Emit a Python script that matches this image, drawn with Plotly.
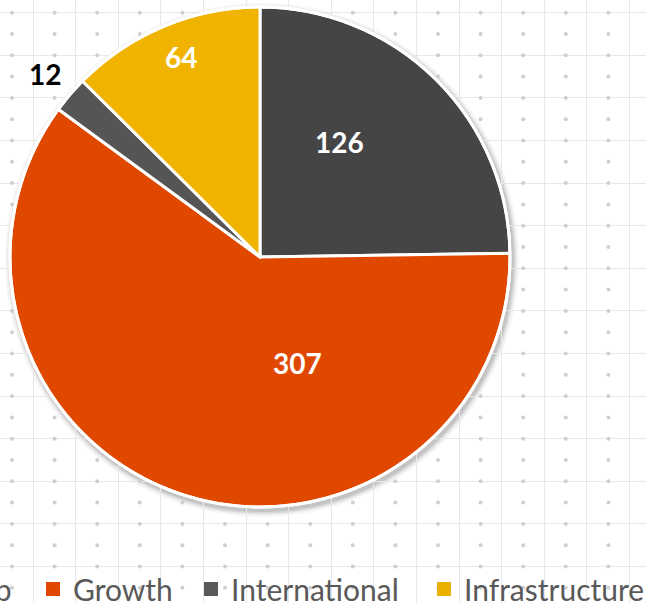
import numpy as np
import plotly.graph_objects as go

# ---- data ----
categories = ["Large Cap", "Growth", "International", "Infrastructure"]
values = [126, 307, 12, 64]

# ---- style ----
slice_colors = ["#454545", "#e04800", "#555555", "#f0b400"]
legend_colors = ["#454545", "#e04800", "#5a5a5a", "#eab000"]
label_colors = ["white", "white", "black", "white"]
label_radius = [0.56, 0.45, 1.13, 0.86]        # fraction of pie radius
label_angle_nudge = [-10, -37, 0, 1]          # degrees from slice mid-angle
legend_sq_center = [-140, 53, 211, 444]       # px, legend marker centres

W, H = 646, 603
CX, CY, R = 260, 257, 250                      # pie centre / radius in px
GRID = 42.6
FONT = "Lato"

fig = go.Figure()

# decorative background: dot grid
gx = np.arange(12, W, GRID)
gy = np.arange(12.7, H, GRID / 2)
XX, YY = np.meshgrid(gx, gy)
fig.add_trace(go.Scatter(
    x=XX.ravel(), y=YY.ravel(), mode="markers",
    marker=dict(size=4, color="#cfcfcf"),
    hoverinfo="skip", showlegend=False,
))

# soft drop shadow behind the pie
for k, a in [(7, 0.035), (5, 0.05), (3.5, 0.07), (2, 0.09)]:
    fig.add_shape(
        type="circle", xref="x", yref="y", layer="below",
        x0=CX - R - k + 2, x1=CX + R + k + 2,
        y0=CY - R - k + 3, y1=CY + R + k + 3,
        fillcolor=f"rgba(0,0,0,{a})", line_width=0,
    )

# the pie
fig.add_trace(go.Pie(
    labels=categories,
    values=values,
    sort=False,
    direction="clockwise",
    rotation=0,
    marker=dict(colors=slice_colors, line=dict(color="white", width=3)),
    textinfo="none",
    domain=dict(x=[(CX - R) / W, (CX + R) / W],
                y=[1 - (CY + R) / H, 1 - (CY - R) / H]),
    hoverinfo="label+value",
    showlegend=False,
))

# white rim around the pie
fig.add_shape(
    type="circle", xref="x", yref="y", layer="above",
    x0=CX - R, x1=CX + R, y0=CY - R, y1=CY + R,
    line=dict(color="white", width=3), fillcolor="rgba(0,0,0,0)",
)

# data labels placed from the slice angles
total = sum(values)
cum = np.cumsum([0] + values)
for i, v in enumerate(values):
    mid = (cum[i] + cum[i + 1]) / 2 / total * 360 + label_angle_nudge[i]
    th = np.deg2rad(mid)
    fig.add_annotation(
        x=CX + label_radius[i] * R * np.sin(th),
        y=CY - label_radius[i] * R * np.cos(th),
        xref="x", yref="y", text=f"<b>{v}</b>", showarrow=False,
        font=dict(family=FONT, size=28, color=label_colors[i]),
    )

# legend entries (one legend per entry so each sits where the reference has it)
layout_legends = {}
for i, name in enumerate(categories):
    key = "legend" if i == 0 else f"legend{i + 1}"
    fig.add_trace(go.Scatter(
        x=[None], y=[None], mode="markers", name=name,
        marker=dict(symbol="square", size=14, color=legend_colors[i]),
        legend=key, showlegend=True,
    ))
    layout_legends[key] = dict(
        orientation="h", x=(legend_sq_center[i] - 20) / W, xanchor="left",
        y=1 - 589 / H, yanchor="middle", valign="middle",
        font=dict(family=FONT, size=30, color="#595959"),
        bgcolor="rgba(0,0,0,0)", borderwidth=0,
        itemclick=False, itemdoubleclick=False,
    )

fig.update_layout(
    width=W, height=H,
    margin=dict(l=0, r=0, t=0, b=0, autoexpand=False),
    paper_bgcolor="white",
    plot_bgcolor="white",
    xaxis=dict(range=[0, W], domain=[0, 1], showgrid=True, gridcolor="#e8e8e8",
               tick0=33, dtick=GRID, showticklabels=False, zeroline=False,
               ticks="", fixedrange=True),
    yaxis=dict(range=[H, 0], domain=[0, 1], showgrid=True, gridcolor="#e8e8e8",
               tick0=12.7, dtick=GRID, showticklabels=False, zeroline=False,
               ticks="", fixedrange=True),
    showlegend=True,
    **layout_legends,
)

fig.write_html(
    "out.html",
    config={"displayModeBar": False},
    post_script="document.body.style.margin='0';document.body.style.overflow='hidden';",
)
